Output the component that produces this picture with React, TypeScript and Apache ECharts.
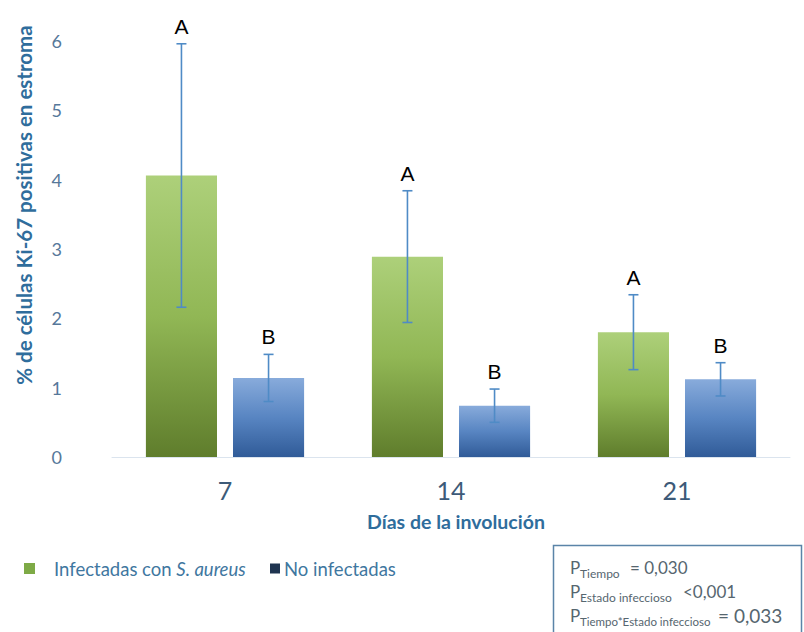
import React, { useEffect, useRef } from "react";
import * as echarts from "echarts";

const categories = ["7", "14", "21"];
const infectedMean = [4.06, 2.89, 1.8];
const infectedErr = [1.9, 0.95, 0.54];
const uninfectedMean = [1.14, 0.74, 1.12];
const uninfectedErr = [0.34, 0.24, 0.24];
const infectedLetters = ["A", "A", "A"];
const uninfectedLetters = ["B", "B", "B"];
const yTicks = [0, 1, 2, 3, 4, 5, 6];
const seriesNames = ["Infectadas con S. aureus", "No infectadas"];
const pLabels = ["Tiempo", "Estado infeccioso", "Tiempo*Estado infeccioso"];
const pValues = ["= 0,030", "<0,001", "= 0,033"];

const FONT = "Lato, 'Open Sans', sans-serif";

export default function App() {
  const ref = useRef<HTMLDivElement>(null);
  useEffect(() => {
    document.body.style.margin = "0";
    const chart = echarts.init(ref.current!, null, { renderer: "svg" });

    const greenGrad = new echarts.graphic.LinearGradient(0, 0, 0, 1, [
      { offset: 0, color: "#add07a" },
      { offset: 0.5, color: "#91b755" },
      { offset: 1, color: "#5f7d2c" },
    ]);
    const blueGrad = new echarts.graphic.LinearGradient(0, 0, 0, 1, [
      { offset: 0, color: "#88abdb" },
      { offset: 0.5, color: "#5885c2" },
      { offset: 1, color: "#305b98" },
    ]);

    const errSeries = (means: number[], errs: number[], letters: string[], sign: number) => ({
      type: "custom",
      silent: true,
      z: 5,
      data: means.map((m, i) => [i, m, errs[i]]),
      encode: { x: 0, y: 1 },
      renderItem: (params: any, api: any) => {
        const cat = api.value(0);
        const mean = api.value(1);
        const err = api.value(2);
        const band = api.size([1, 0])[0];
        const bw = (band * 0.7) / 2.225;
        const off = ((bw * 1.225) / 2) * sign;
        const x = api.coord([cat, 0])[0] + off;
        const top = api.coord([cat, mean + err])[1];
        const bot = api.coord([cat, mean - err])[1];
        const st = { stroke: "#4f8bc6", lineWidth: 1.6 };
        const cap = 5;
        return {
          type: "group",
          children: [
            { type: "line", shape: { x1: x, y1: top, x2: x, y2: bot }, style: st },
            { type: "line", shape: { x1: x - cap, y1: top, x2: x + cap, y2: top }, style: st },
            { type: "line", shape: { x1: x - cap, y1: bot, x2: x + cap, y2: bot }, style: st },
            {
              type: "text",
              style: {
                text: letters[params.dataIndex],
                x: x,
                y: top - 7,
                align: "center",
                verticalAlign: "bottom",
                fontSize: 21,
                fontFamily: "'Liberation Sans', Arial, sans-serif",
                fill: "#000",
              },
            },
          ],
        };
      },
    });

    const pTexts: any[] = [];
    const lineY = [567, 591, 615];
    const valX = [630, 683, 718];
    const valSize = [17, 17, 19];
    const subSize = [12, 12, 11.5];
    pLabels.forEach((lab, i) => {
      pTexts.push({
        type: "text",
        x: 570,
        y: lineY[i],
        style: { text: "P", fontSize: 17, fontFamily: FONT, fill: "#56666f", verticalAlign: "middle" },
      });
      pTexts.push({
        type: "text",
        x: 580,
        y: lineY[i] + 6,
        style: { text: lab, fontSize: subSize[i], fontFamily: FONT, fill: "#56666f", verticalAlign: "middle" },
      });
      pTexts.push({
        type: "text",
        x: valX[i],
        y: lineY[i],
        style: { text: pValues[i], fontSize: valSize[i], fontFamily: FONT, fill: "#56666f", verticalAlign: "middle" },
      });
    });

    chart.setOption({
      animation: false,
      backgroundColor: "#ffffff",
      grid: { left: 112, right: 14, top: 41, bottom: 175 },
      xAxis: {
        type: "category",
        data: categories,
        axisTick: { show: false },
        axisLine: { lineStyle: { color: "#dbe4ee", width: 1 } },
        axisLabel: { fontSize: 25, fontFamily: FONT, color: "#3d5a78", margin: 20 },
      },
      yAxis: {
        type: "value",
        min: yTicks[0],
        max: yTicks[yTicks.length - 1],
        interval: 1,
        splitLine: { show: false },
        axisLine: { show: false },
        axisTick: { show: false },
        axisLabel: { fontSize: 18, fontFamily: FONT, color: "#56789a", margin: 50 },
      },
      legend: [
        {
          data: [{ name: seriesNames[0], itemStyle: { color: "#7eaa46" } }],
          left: 19,
          top: 554,
          itemWidth: 11,
          itemHeight: 11,
          icon: "rect",
          formatter: () => "{n|Infectadas con }{i|S. aureus}",
          textStyle: {
            padding: [0, 0, 0, 14],
            rich: {
              n: { fontSize: 18.5, fontFamily: FONT, color: "#3f77a0" },
              i: { fontSize: 18.5, fontFamily: FONT, color: "#3f77a0", fontStyle: "italic" },
            },
          },
        },
        {
          data: [{ name: seriesNames[1], itemStyle: { color: "#1f3450" } }],
          left: 265,
          top: 554,
          itemWidth: 10,
          itemHeight: 10,
          itemGap: 4,
          icon: "rect",
          textStyle: { fontSize: 18.5, fontFamily: FONT, color: "#3f77a0", padding: [0, 0, 0, -1] },
        },
      ],
      graphic: [
        {
          type: "text",
          x: 24,
          y: 205,
          rotation: Math.PI / 2,
          style: {
            text: "% de células Ki-67 positivas en estroma",
            fontSize: 20.5,
            fontWeight: "bold",
            fontFamily: FONT,
            fill: "#2f6d9c",
            align: "center",
            verticalAlign: "middle",
          },
        },
        {
          type: "text",
          x: 456,
          y: 521,
          style: {
            text: "Días de la involución",
            fontSize: 19.5,
            fontWeight: "bold",
            fontFamily: FONT,
            fill: "#2f6d9c",
            align: "center",
            verticalAlign: "middle",
          },
        },
        {
          type: "rect",
          shape: { x: 553.5, y: 545.5, width: 248, height: 100 },
          style: { fill: "none", stroke: "#5a84a8", lineWidth: 1.5 },
        },
        ...pTexts,
      ],
      series: [
        {
          name: seriesNames[0],
          type: "bar",
          data: infectedMean,
          barGap: "22.5%",
          barCategoryGap: "30%",
          itemStyle: { color: greenGrad },
        },
        {
          name: seriesNames[1],
          type: "bar",
          data: uninfectedMean,
          barGap: "22.5%",
          barCategoryGap: "30%",
          itemStyle: { color: blueGrad },
        },
        errSeries(infectedMean, infectedErr, infectedLetters, -1),
        errSeries(uninfectedMean, uninfectedErr, uninfectedLetters, 1),
      ],
    });
    return () => chart.dispose();
  }, []);
  return <div ref={ref} style={{ width: 804, height: 632 }} />;
}
